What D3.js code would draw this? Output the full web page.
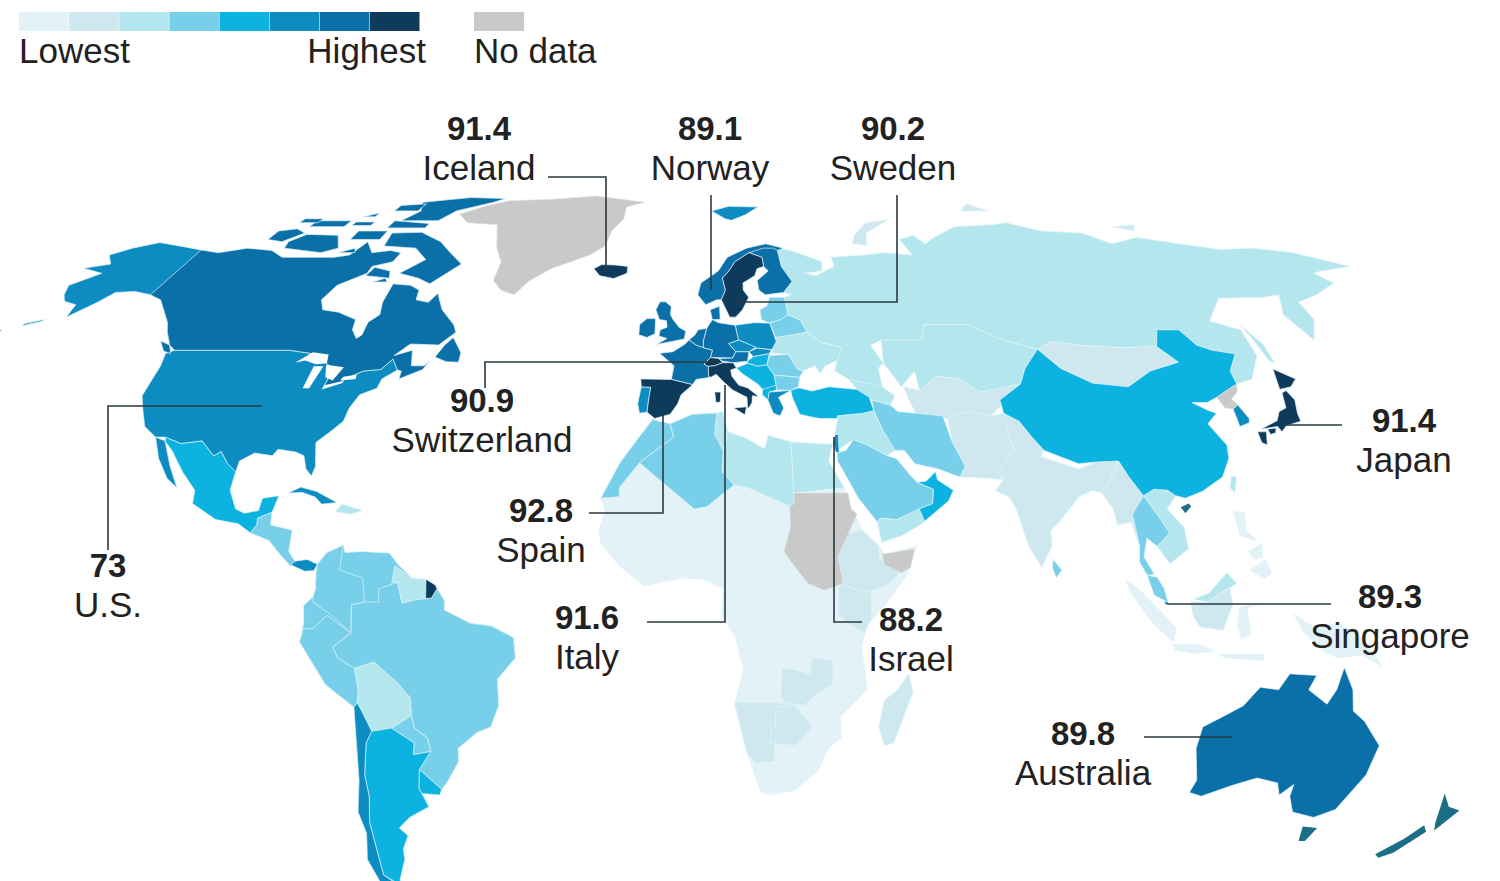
<!DOCTYPE html>
<html>
<head>
<meta charset="utf-8">
<script src="https://cdn.jsdelivr.net/npm/d3@7"></script>
<style>
  html, body { margin:0; background:#fff; }
  text { font-family:"Liberation Sans", Arial, sans-serif; fill:#222; }
</style>
</head>
<body>
<svg id="chart" width="1500" height="881"></svg>
<script>
"use strict";

// ---- Legend + callouts
const shades = ["#e2f2f7","#cfe8f0","#b4e6ee","#78cfea","#0cb2e0","#0c8cc0","#0b6fa8","#0e3a5c"];
const noData = "#c9c9c9";
const tealIslands = "#1c6e86";
const calloutNames = ["Iceland","Norway","Sweden","Switzerland","Spain","Italy","Israel","U.S.","Japan","Singapore","Australia"];
const calloutValues = ["91.4","89.1","90.2","90.9","92.8","91.6","88.2","73","91.4","89.3","89.8"];

// ---- Robinson table, every 5 degrees
const robLat = [0,5,10,15,20,25,30,35,40,45,50,55,60,65,70,75,80,85,90];
const robLen = [1,.9986,.9954,.99,.9822,.973,.96,.9427,.9216,.8962,.8679,.835,.7986,.7597,.7186,.6732,.6213,.5722,.5322];
const robDrop = [0,.062,.124,.186,.248,.31,.372,.434,.4958,.5571,.6176,.6769,.7346,.7903,.8435,.8936,.9394,.9761,1];

// ---- Outlines, [lon, lat]
const greenland = [[-73,78.2],[-68,76],[-58,75.5],[-54,70],[-51,67],[-51,63],[-48,61],[-44,60],[-41,63],[-36,65.5],[-26,68.5],[-22,70.5],[-21,74],[-18,77],[-18,80],[-12,81.5],[-30,83.5],[-45,82.5],[-60,82],[-66,80.5]];
const iceland = [[-24,65.5],[-22,64],[-18,63.4],[-14.5,64.5],[-14.5,66],[-18,66.3],[-22,66.4]];
const canada = [[-141,69.6],[-135,69],[-128,70],[-120,69.5],[-115,68],[-108,68],[-100,68],[-96,68.5],[-94,71.5],[-90,69],[-85,69.5],[-81.5,69],[-82,67],[-87,66],[-87,64.5],[-93,62],[-94.5,59],[-92.5,57],[-88,56.5],[-82.5,55],[-82,53],[-80,51.3],[-79,52],[-79,54.5],[-77,56],[-78,58.5],[-78,62.3],[-73,62],[-70,61],[-69.5,59],[-66,58.5],[-64.5,60.3],[-61.5,57],[-57,54],[-55.8,52.5],[-59,50],[-66,50.2],[-69,48],[-65,49],[-64.5,47.5],[-64,46],[-61,46],[-60,47],[-61,45.3],[-66,43.5],[-66,45],[-67,45.2],[-69,47.3],[-71,45.3],[-75,45],[-79,43.4],[-79,42.9],[-83,42],[-82.4,45.3],[-84.5,46.5],[-88.5,48.3],[-95,49],[-123,49],[-125,50],[-128,52.5],[-130,54.5],[-133,56.5],[-137,59],[-141,60]];
const baffin = [[-62,66.5],[-68,62.3],[-72,63.5],[-78,64.5],[-73,67.5],[-78,70],[-88,70.5],[-89,73.5],[-80,73.7],[-72,71.5],[-67,69]];
const victoria = [[-117,70],[-105,69],[-101,70],[-105,73],[-115,73.2],[-118,71.5]];
const banks = [[-125,72],[-120,71.5],[-116,73.5],[-120,74.5],[-125,74]];
const ellesmere = [[-90,76.5],[-78,76.5],[-75,79],[-65,81.5],[-62,82.7],[-75,83],[-90,81.5],[-87,79]];
const axel = [[-96,79],[-88,79],[-88,81],[-96,80.5]];
const devon = [[-92,74.7],[-80,74.7],[-80,75.8],[-92,76.5]];
const melville = [[-117,75],[-106,75],[-106,76.5],[-117,76.5]];
const bathurst = [[-104,75.3],[-98,75.3],[-98,76.2],[-104,76.2]];
const patrick = [[-122,76],[-116,76],[-116,77],[-122,77]];
const ringnes = [[-104,77.5],[-100,77.5],[-100,78.5]];
const somerset = [[-100,72],[-91,72],[-91,74],[-100,74]];
const kingWilliam = [[-100,69],[-95,69],[-96,70]];
const coats = [[-84,62.7],[-80,62.7],[-81,63.5]];
const newfoundland = [[-59,47.7],[-56,46.8],[-53,46.7],[-53,48.5],[-56,51.5],[-57.5,50]];
const southampton = [[-87,64],[-80,63.5],[-81,65],[-86,65.8]];
const vancouver = [[-128,50.8],[-125,50],[-123.5,48.4],[-125.5,48.8]];
const alaska = [[-141,69.6],[-148,70.4],[-156.5,71.3],[-162,70],[-166,68.5],[-162,66.5],[-168,65.6],[-161,64.5],[-166,62],[-164,60],[-162,58.7],[-158,58],[-157,55.5],[-155,57],[-153,58.5],[-151,60.5],[-146,60.7],[-141,60],[-137,59],[-133,56.5],[-130,54.5],[-131.5,56],[-135,59]];
const aleutianA = [[-166,54.2],[-162,55],[-162,54.7],[-166,53.8]];
const aleutianB = [[-178,52],[-170,53],[-170,52.7],[-178,51.7]];
const usa = [[-123,49],[-95,49],[-88.5,48.3],[-84.5,46.5],[-82.4,45.3],[-83,42],[-79,42.9],[-79,43.4],[-75,45],[-71,45.3],[-69,47.3],[-67,45.2],[-70,43.5],[-70.5,41.7],[-74,40.5],[-75.5,38],[-76,35.5],[-78,33.8],[-81,31.5],[-80,27],[-80.5,25.2],[-82,26.5],[-83,29],[-85,29.7],[-89,30.2],[-90,29],[-94,29.5],[-97,28],[-97.3,26],[-99.5,27.5],[-101.5,29.8],[-103,29],[-106.5,31.8],[-111,31.3],[-115,32.5],[-117.2,32.5],[-120.5,34.5],[-122.5,37.5],[-124.3,40.3],[-124,46],[-124.7,48.4]];
const mexico = [[-115,32.5],[-111,31.3],[-106.5,31.8],[-103,29],[-101.5,29.8],[-99.5,27.5],[-97.3,26],[-97.8,22.5],[-96,19],[-94,18.2],[-91,18.7],[-90.5,21],[-87,21.5],[-88,18.4],[-91,17.3],[-91,16],[-92.2,14.5],[-95,16.2],[-100,17],[-105.5,20],[-105.5,22.5],[-109,26],[-112.5,30],[-114.7,31.7]];
const baja = [[-117.2,32.5],[-114.8,31.8],[-112,27],[-109.5,23],[-112,24.7],[-115,28.5]];
const centralAmerica = [[-92.2,14.5],[-91,16],[-91,17.3],[-88,18.4],[-88,16],[-83.2,15],[-83.6,11],[-82,9],[-83,8.2],[-86,11],[-88,13]];
const panama = [[-83,8.5],[-82,9.2],[-79.5,9.5],[-77.3,8.6],[-78,7.4],[-80,7.3]];
const cuba = [[-85,22],[-82.5,23.1],[-79,22.3],[-74.2,20.2],[-77.5,19.9],[-79,21.2],[-82,22.1]];
const hispaniola = [[-74.4,18.5],[-73,19.9],[-68.5,18.7],[-71,18]];
const southAmerica = [[-77.3,8.6],[-75.5,10.7],[-72,12.2],[-71.5,10.8],[-68,11],[-62,10.7],[-60,8.5],[-57,6],[-52,4.8],[-50,1.8],[-50,0],[-44.5,-2.5],[-40,-3],[-35.3,-5.2],[-35,-9],[-39,-13],[-39,-18],[-41,-22],[-44,-23],[-48.5,-26],[-48.7,-28.5],[-52,-32.5],[-54,-34.5],[-58,-34.5],[-57,-37],[-62,-39],[-65,-41],[-63.5,-42.5],[-65.5,-45],[-66,-47],[-69,-51],[-68.5,-52.5],[-65,-55],[-70,-55],[-74,-52],[-75,-47],[-73,-42],[-73.5,-38],[-71.5,-32],[-70.3,-18.3],[-76,-14],[-81,-6],[-80,-2.5],[-80,.8],[-78,2.5],[-77.5,4],[-77.5,7]];
const brazil = [[-60,5.2],[-59,1.3],[-56,2],[-52.8,2.2],[-51.6,4],[-50,1.8],[-50,0],[-44.5,-2.5],[-40,-3],[-35.3,-5.2],[-35,-9],[-39,-13],[-39,-18],[-41,-22],[-44,-23],[-48.5,-26],[-48.7,-28.5],[-52,-32.5],[-53.4,-33.7],[-57.6,-30],[-54.6,-26.6],[-55,-24],[-57.7,-22.2],[-58,-19.8],[-58,-16.5],[-60.5,-13.7],[-65.3,-9.8],[-69.5,-11],[-73,-9],[-74,-7],[-70,-4.3],[-69.8,1],[-67,1.5],[-64,1.5],[-64,4]];
const colombia = [[-77.3,8.6],[-75.5,10.7],[-72,12.2],[-72.5,7.5],[-67.5,6],[-67,1.5],[-69.8,1],[-70,-4.3],[-74,-1],[-78,1.5],[-78,2.5],[-77.5,4],[-77.5,7]];
const peru = [[-78,-3.5],[-75,-1],[-70,-4.3],[-74,-7],[-73,-9],[-69.5,-11],[-69,-15],[-69.5,-17.5],[-70.3,-18.3],[-76,-14],[-81,-6],[-80,-3.5]];
const guianas = [[-60.7,8.3],[-57,6],[-54,5.8],[-54,2.2],[-56,2],[-59,1.3],[-60,5.2],[-61.3,5.2]];
const frenchGuiana = [[-54,5.8],[-52,4.7],[-51.6,4],[-52.8,2.2],[-54,2.2]];
const bolivia = [[-69.5,-11],[-65.3,-9.8],[-60.5,-13.7],[-58,-16.5],[-58,-19.8],[-62.6,-22.2],[-67,-22.8],[-68.7,-19],[-69.5,-17.5],[-69,-15]];
const paraguay = [[-62.6,-22.2],[-58,-19.8],[-57.7,-22.2],[-55,-24],[-54.6,-26.6],[-58.5,-27.2],[-58,-25]];
const chile = [[-69.5,-17.5],[-68.7,-19],[-67,-22.8],[-68.5,-25],[-70,-31],[-70,-35],[-71.5,-40],[-72,-46],[-72.5,-50],[-70,-52],[-67,-55],[-70,-55],[-74,-52],[-75,-47],[-73,-42],[-73.5,-38],[-71.5,-32],[-70.3,-18.3]];
const argentina = [[-67,-22.8],[-62.6,-22.2],[-58,-25],[-58.5,-27.2],[-54.6,-26.6],[-57.6,-30],[-58.4,-33.5],[-58,-34.5],[-57,-37],[-62,-39],[-65,-41],[-63.5,-42.5],[-65.5,-45],[-66,-47],[-69,-51],[-68.5,-52.5],[-72.5,-50],[-72,-46],[-71.5,-40],[-70,-35],[-70,-31],[-68.5,-25]];
const uruguay = [[-58.4,-33.5],[-57.6,-30],[-53.4,-33.7],[-54,-34.8],[-58,-34.5]];

const africa = [[-6,35.8],[-2,35],[3,36.8],[10,37.3],[11,33.5],[15,32.3],[19,30.3],[20,32.8],[25,31.6],[32,31.2],[34.2,31.2],[33,28],[36,23],[37.3,19],[39.5,15],[43.2,11.8],[44,10.5],[51,12],[49,7],[44,1],[40,-3],[39,-7],[40.5,-15],[35,-20],[35.5,-24],[32.8,-26],[31,-30],[26,-34],[20,-34.8],[18.3,-34],[15,-27],[12,-18],[13.8,-11],[12,-5],[9,-1],[9.5,4],[5,5.8],[1,6],[-4,5.2],[-7.5,4.5],[-13,8.5],[-16.7,12.5],[-17.3,14.7],[-16,19],[-17,21],[-13,27.7],[-9.8,31.5]];
const morocco = [[-6,35.8],[-2,35],[-1.2,32.5],[-8.7,27.7],[-13,23],[-13,21.3],[-17,21],[-13,27.7],[-9.8,31.5]];
const algeria = [[-2,35],[3,36.8],[8.6,37],[8,33],[9.8,30],[9.5,26],[12,23.5],[6,19.4],[3.3,19],[-5,25],[-8.7,27.7],[-1.2,32.5]];
const tunisia = [[8.6,37],[10,37.3],[11,33.5],[9.8,30],[8,33]];
const libya = [[11,33.5],[15,32.3],[19,30.3],[20,32.8],[25,31.6],[25,20],[24,19.5],[15,23],[12,23.5],[9.5,26],[9.8,30]];
const egypt = [[25,31.6],[32,31.2],[34.2,31.2],[33,28],[36,23],[25,22]];
const sudan = [[25,22],[36.8,22],[37.3,19],[38.5,18],[36.5,14.5],[34,10],[35,5],[31,3.7],[27.5,5],[24,9],[22.5,11],[24,15.5],[24,19.5],[25,20]];
const somaliland = [[43.5,10.5],[50.5,11.5],[49.5,8],[47.5,7],[44,8.5]];
const ethiopia = [[36.5,14.5],[39.5,15],[42.7,12.2],[43,9.5],[48,8],[45,5],[41,3.5],[38,3.7],[35,5],[34,10]];
const kenya = [[35,5],[38,3.7],[41,3.5],[41,-1.5],[39.5,-4.5],[34,-1],[34,4]];
const zambia = [[22,-11],[24,-11],[28,-12],[28.5,-9],[33,-9.5],[33,-14],[30,-15.6],[27,-18],[23,-17.5],[22,-16]];
const namibia = [[12,-17.3],[23,-17.5],[25,-17.8],[21,-18.3],[21,-28.5],[17,-28.8],[15,-27]];
const botswana = [[21,-18.3],[25,-17.8],[29,-22],[25.5,-25.5],[20,-25],[20,-22],[21,-22]];
const madagascar = [[49.3,-12],[50.4,-15.5],[47,-25],[45,-25.5],[43.5,-22],[44.3,-17],[47,-15]];

const russia = [[28,70],[33,69.5],[41,67],[40,65],[35,64.5],[38,64],[44,66],[44,68],[54,68.5],[60,69],[68,68.5],[67,72],[72,73],[74,71],[78,72.5],[87,75],[100,75.5],[105,76],[113,74],[125,73.5],[130,71],[140,72.5],[150,71],[160,69.7],[170,70],[180,69],[190,66],[180,65],[177,64.5],[179,62.5],[170,60],[163,58.5],[162,55],[157,51],[155.5,56],[160,60],[155,59.5],[143,59.3],[135,54.7],[141,53],[140,48],[135,43.5],[130.7,42.5],[131,45],[135,48.3],[130,49],[127,50],[125.5,53],[120,53],[117,49.7],[108,49.5],[98,50],[92,50.7],[87.5,49.2],[80,51],[73,54],[62,54],[60,51],[50,51],[47,50],[49,46.5],[47.5,45.5],[47.5,42],[48,41.5],[40,43.4],[37,45],[38,47],[40,49.5],[35,50.5],[32,52.5],[31,54.8],[28,56],[28,59.5],[30,60],[28,60.5],[31,62.8],[29,66],[29,69.5]];
const novayaZemlya = [[52,71],[56,70.6],[58,73.5],[68,76.8],[60,76],[54,73]];
const severnaya = [[95,79],[104,79],[100,81]];
const newSiberia = [[137,75],[145,75.5],[142,74]];
const sakhalin = [[142,54],[143.5,50],[143,46.5],[142,47],[142,51]];
const finland = [[20.5,69],[25,70],[28,70],[29,69.5],[29,66],[31,62.8],[28,60.5],[23,60],[21.5,61],[21.5,63],[25,65],[24,66],[24,68]];
const sweden = [[11.2,59],[13,55.5],[14.5,55.5],[16.5,57],[18.5,59.5],[17.3,61],[17.5,62.5],[21,64],[22,65.5],[24,66],[24,68],[20.5,69],[16,67],[14,65],[12,63.5],[12.5,61]];
const norway = [[5,60],[7,58],[10,59],[11.2,59],[12.5,61],[12,63.5],[14,65],[16,67],[20.5,69],[25,68.7],[29,69.5],[31,70],[26,71],[20,70],[14,68],[11,65],[6,62.5]];
const svalbard = [[11,79],[15,77],[17,76.6],[22,78],[27,80],[17,80.2]];
const denmark = [[8.1,57],[10.6,57.7],[10.5,55],[8.5,55]];
const britain = [[-5.5,50.1],[1.3,51.2],[1.7,52.7],[0,53.5],[-1.5,55],[-2.2,56],[-2,57.6],[-3.5,58.6],[-5,58.6],[-6,57],[-5,55],[-3.2,54.8],[-3,53.5],[-4.7,53],[-5,51.8],[-3,51.3]];
const ireland = [[-6,52.2],[-6,54],[-6,55.2],[-8.2,55.2],[-10,54],[-10,52],[-8,51.5]];
const france = [[-1.8,43.4],[-1.2,46],[-4.7,48.4],[-1.5,48.7],[1.5,50.2],[2.5,51],[4.2,50],[6,49.5],[8.2,49],[7.6,47.6],[6,46.3],[7,45.9],[7,44],[7.5,43.8],[4,43.4],[3.2,42.4]];
const benelux = [[2.5,51],[4,52],[4.8,53],[7,53.3],[6,50.7],[6,49.5],[4.2,50]];
const germany = [[7,53.3],[8.5,55],[10,54.4],[14.2,53.9],[14.7,51],[12.2,50.3],[13.8,48.7],[13,47.5],[7.6,47.6],[8.2,49],[6,49.5],[6,50.7]];
const poland = [[14.2,53.9],[19,54.4],[23,54.3],[24,50.7],[22.7,49.1],[19,49.4],[14.7,51]];
const czechia = [[12.2,50.3],[14.7,51],[18.8,49.6],[17,48.7],[13.8,48.7]];
const slovakia = [[17,48.7],[19,49.4],[22.5,49.1],[22,48.4],[18,47.8]];
const austria = [[9.6,47.4],[13,47.5],[13.8,48.7],[17,48.7],[16.5,46.9],[13,46.6],[10.5,46.9]];
const switzerland = [[6,46.3],[7.6,47.6],[9.6,47.4],[10.5,46.6],[8.5,46],[7,45.9]];
const italy = [[7,44],[7,45.9],[8.5,46],[10.5,46.6],[13,46.6],[13.7,45.6],[12.3,45.2],[12.5,44],[14,42.3],[16,41.8],[18.5,40.1],[17,40.3],[16.8,39],[16,38],[15.7,38.1],[15.7,40],[12.5,41.4],[10.5,42.9],[8.8,44.4],[7.5,43.8]];
const sicily = [[12.5,38],[15.5,38.2],[15,36.7]];
const sardinia = [[8.3,41],[9.7,41],[9.5,39.1],[8.5,39]];
const spain = [[-9,43.5],[-1.8,43.4],[3.2,42.4],[.5,40.5],[-.3,38.8],[-2,36.8],[-5.5,36],[-7.3,37.2],[-7,39.5],[-6.6,41.9],[-8.8,42]];
const portugal = [[-8.8,42],[-6.6,41.9],[-7,39.5],[-7.3,37.2],[-9,37],[-9.5,38.8]];
const hungary = [[16.5,46.9],[18,47.8],[22,48.4],[21,46.2],[18.8,45.9],[16.5,46.5]];
const balkans = [[13.7,45.6],[16.5,46.5],[18.8,45.9],[21,46.2],[22.5,44.2],[22.7,42.3],[20.5,41],[19.5,41.5],[18.5,42.5],[15,44.5]];
const albania = [[19.5,41.5],[22.7,42.3],[22.7,41.4],[21,41],[20.5,39.5],[19.3,40.5]];
const greece = [[20.5,39.5],[21,41],[26,41.3],[23,40],[24,38],[23,36.5],[21.5,37]];
const romania = [[21,46.2],[22,48],[26.5,48.2],[28.2,45.3],[29.5,45],[28.5,43.8],[22.5,44.2]];
const bulgaria = [[22.5,44.2],[28.5,43.8],[27.9,42],[26,41.3],[22.7,41.4]];
const baltics = [[21,55],[21,57],[23,57.8],[24,59.5],[28,59.5],[28,56],[26,55],[23,54.3]];
const belarus = [[23,54.3],[26,55],[28,56],[31,54.8],[32,52.5],[24,51.5]];
const ukraine = [[24,50.7],[24,51.5],[32,52.5],[35,50.5],[40,49.5],[38,47],[35,46],[33.5,44.5],[32.5,46],[29.5,45],[28.2,45.3],[26.5,48.2],[22.5,48.5]];
const turkey = [[26.2,40],[26,41.3],[28,41.8],[31,41.2],[35,42],[41.5,41.5],[44,40],[44.5,37.5],[42,37],[36,36.5],[36,36],[32,36],[30,36.3],[27.5,36.8]];
const caucasus = [[40,43.4],[47.5,42],[50,40.3],[48.5,38.5],[44.5,39.5],[41.5,41.5]];
const iran = [[44.5,39.5],[48.5,38.5],[50,37.3],[54,37],[60,36.5],[61,31.5],[63,27],[61.5,25],[57,26.5],[52,27.5],[50,30],[48,30],[46,33.5],[44.5,37.5]];
const iraqSyria = [[36,36.5],[42,37],[44.5,37.5],[46,33.5],[48,30],[46,29],[42,31],[39,32],[35,30],[35,33],[36,36]];
const israel = [[34.3,31.3],[35,33],[35.7,33],[35.5,29.6],[34.8,29.6]];
const saudi = [[35,29.5],[35,28],[39,21],[42.8,16.5],[43.5,17.3],[47,17],[52,19],[55,20],[55.5,22.7],[52,24],[51,25],[48,28.5],[46,29],[42,31],[39,32],[37,30]];
const yemen = [[42.8,16.5],[43.5,12.7],[48,14],[52,16],[53,16.7],[52,19],[47,17],[43.5,17.3]];
const oman = [[52,24],[55.5,22.7],[55,20],[52,19],[53,16.7],[58.5,20.5],[59.8,22.5],[56.5,24.5],[56.3,26],[54,24.2]];
const kazakhstan = [[49,46.5],[50,51],[60,51],[62,54],[73,54],[80,51],[87.5,49.2],[82.5,45.5],[80,42.5],[70,41],[66,43.5],[61,44],[56,41.3],[56,45],[52,42],[50,45]];
const centralAsia = [[52.5,42],[56,41.3],[61,44],[66,43.5],[70,41],[80,42.5],[74,38.5],[71,36.5],[66,37.3],[61,36],[54,37],[53,39.5]];
const afPak = [[61,36],[66,37.3],[71,36.5],[74,37],[77,35.5],[74,32],[74.5,30],[70,26],[71,24.5],[67,24.8],[61.5,25],[63,27],[61,31.5]];
const india = [[74,37],[77,35.5],[79,32.5],[81,30],[80,28.8],[88,26.5],[92,27.8],[97,28],[94,24],[92,22],[90,22.5],[87,21.3],[82,16.5],[80,15],[80,12],[77.5,8],[75,12],[73,19],[72,21],[69,22.5],[71,24.5],[70,26],[74.5,30],[74,32]];
const myanmar = [[92,22],[94,24],[97,28],[98.5,25],[101,21.5],[98,18],[98.8,12],[97.5,16.5],[94.5,16],[94,19]];
const sriLanka = [[80,9.5],[81.8,7.5],[80.5,6],[79.8,8]];
const thailand = [[98,18],[101,21.5],[103,18.5],[105.5,14.5],[102.5,12],[100.5,13.5],[99.5,10],[101.5,6.7],[100,6.5],[98.5,9],[98.8,12]];
const indochina = [[101,21.5],[103.5,22.7],[106.5,22.5],[108,21.5],[105.7,19],[108.8,15.5],[109.2,11.5],[105,8.7],[102.5,12],[105.5,14.5],[103,18.5]];
const malaya = [[100,6.5],[102,6.2],[103.5,4],[104.2,1.4],[101.3,2.8]];
const sabah = [[109.7,2],[113,3.2],[117,7],[119,5],[117.5,4.2],[115,3],[113,1.5]];
const sumatra = [[95.3,5.6],[98,4],[104,-1.5],[106,-3.5],[105.5,-6],[101,-2.5],[96.5,3]];
const kalimantan = [[109,1.5],[113,1.5],[115,3],[117.5,4.2],[118,1],[116,-3.8],[111,-3.2],[109.5,-1]];
const java = [[105.5,-6.5],[111,-6.5],[114.5,-7.8],[110,-8.2],[106,-7.5]];
const sulawesi = [[119.5,.5],[125,1.5],[121,.3],[122,-4.5],[120,-5.5],[119,-3]];
const sunda = [[115,-8.3],[125,-8.3],[125,-9.5],[117,-9]];
const papua = [[131,-.8],[135,-3],[141,-2.6],[141,-9],[138,-8],[133,-4]];
const png = [[141,-2.6],[146,-5.5],[150.5,-10.5],[146,-8.5],[141,-9]];
const luzon = [[120,18.5],[122.3,18.3],[122,15],[124,13],[120.5,14]];
const visayas = [[122,11],[125,12.5],[125,10],[123,9.5]];
const mindanao = [[122,7.5],[125.5,9.5],[126.5,7],[125,5.8]];
const singapore = [[103.5,1.6],[104.2,1.6],[104.2,1.1],[103.5,1.1]];
const mongolia = [[87.5,49.2],[92,50.7],[98,50],[108,49.5],[117,49.7],[120,46.7],[112,45],[105,42],[97,42.7],[91,45.5]];
const china = [[74,39.5],[80,42.5],[82.5,45.5],[87.5,49.2],[91,45.5],[97,42.7],[105,42],[112,45],[120,46.7],[117,49.7],[120,53],[125.5,53],[127,50],[130,49],[135,48.3],[131,45],[130.7,42.5],[128,41.5],[124.3,40],[121.5,39],[118,39],[121,37.5],[122.5,37],[119.5,35],[122,31],[121.5,28.5],[119,25],[114,22.3],[110,21],[108,21.5],[106.5,22.5],[103.5,22.7],[101,21.5],[98.5,25],[97,28],[92,27.8],[88,27.5],[81,30],[79,32.5],[77,35.5],[74,37]];
const hainan = [[108.7,19.3],[110.5,20],[111,19.5],[109.5,18.2]];
const taiwan = [[121,25.2],[122,25],[121,22],[120.2,23]];
const northKorea = [[124.3,40],[128,41.5],[130.7,42.5],[129.7,41],[127.5,39.7],[128.3,38.6],[126.8,37.8],[125,38]];
const southKorea = [[126.8,37.8],[128.3,38.6],[129.4,36],[129,35.2],[126.5,34.5]];
const hokkaido = [[140,41.5],[141.5,45.4],[145.3,43.5],[143,42]];
const honshu = [[131,34],[135.5,35.6],[137,37.3],[139,38],[140,40.8],[141.3,41.3],[142,39.5],[141,37],[140.8,35.5],[137,34.6],[135.5,33.5],[135,34.5]];
const kyushu = [[130,33.5],[132,33.5],[131,31],[130,31.5]];
const shikoku = [[132.5,34],[134.5,34.2],[134,33.3],[132.7,33]];
const australia = [[114,-22],[113.5,-26],[115.7,-32],[115,-34.3],[118,-35],[124,-33],[129,-31.6],[134,-32.5],[135.5,-34.8],[137.8,-32.8],[138,-35],[140.5,-38],[146,-39],[150,-37.5],[153,-31],[153.5,-25.5],[149,-21],[146,-19],[145,-15],[142.5,-10.8],[141.5,-15],[140,-17.7],[135.5,-15],[136.8,-12.3],[131,-12],[129,-15],[125,-14.5],[122,-18],[118,-20]];
const tasmania = [[144.7,-40.7],[148.3,-41],[147.5,-43.5],[146,-43.5]];
const nzNorth = [[172.7,-34.5],[175.5,-37],[178.5,-37.7],[176,-41.5],[174.8,-40]];
const nzSouth = [[172.7,-40.5],[174.3,-41.7],[170.5,-45.7],[168,-46.7],[166.5,-46],[170.5,-43]];
const superior = [[-92.2,46.6],[-89,48.6],[-85,48.2],[-84.5,46.5],[-87,46.3],[-90,47]];
const michigan = [[-87.8,41.7],[-86.3,41.7],[-85,45.9],[-87.3,45.9]];
const huron = [[-84.5,46.2],[-80,45.7],[-81.5,43.2],[-83.5,43.8]];
const erie = [[-83.3,41.5],[-78.9,42.7],[-79,43.1],[-83,42.3]];
const ontario = [[-79.7,43.2],[-76.2,43.5],[-76.3,44.3],[-79.3,43.9]];

// shade index per group, drawn in this order so later ones sit on top
const groups = [
  [0, [africa]],
  [3, [southAmerica, brazil, colombia, peru, centralAmerica, paraguay]],
  [2, [guianas, bolivia, hispaniola, russia, sakhalin, ukraine, caucasus, kazakhstan, iraqSyria, yemen, tunisia, libya, egypt, indochina, taiwan, sabah]],
  [1, [ethiopia, kenya, zambia, namibia, botswana, madagascar, centralAsia, afPak, india, myanmar, mongolia, kalimantan, novayaZemlya, severnaya, newSiberia]],
  [0, [sumatra, java, sulawesi, sunda, papua, png, luzon, visayas, mindanao]],
  [3, [morocco, algeria, iran, saudi, baltics, belarus, romania, bulgaria, thailand, malaya, sriLanka]],
  [4, [mexico, argentina, uruguay, hungary, balkans, albania, turkey, oman, china]],
  [5, [baja, panama, cuba, usa, alaska, aleutianA, aleutianB, chile, svalbard, portugal, poland, czechia, slovakia, greece, israel, singapore, southKorea]],
  [6, [canada, baffin, victoria, banks, ellesmere, axel, devon, melville, bathurst, patrick, ringnes, somerset, kingWilliam, coats, newfoundland, southampton, vancouver, norway, finland, denmark, britain, ireland, france, benelux, germany, austria, australia]],
  [7, [iceland, frenchGuiana, sweden, switzerland, italy, sicily, sardinia, spain, hokkaido, honshu, kyushu, shikoku]]
];
const tealLand = [hainan, tasmania, nzNorth, nzSouth];
const noDataLand = [greenland, sudan, somaliland, northKorea];
const lakes = [superior, michigan, huron, erie, ontario];

// ---- Robinson projection built from scales
const lenAt = d3.scaleLinear().domain(robLat).range(robLen);
const dropAt = d3.scaleLinear().domain(robLat).range(robDrop);
const lonX = d3.scaleLinear().domain([-180,180]).range([679 - Math.PI*269, 679 + Math.PI*269]);
const latY = d3.scaleLinear().domain([-1,1]).range([610 + 429, 610 - 429]);
const project = ([lon,lat]) => [
  lonX(0) + (lonX(lon) - lonX(0))*lenAt(Math.abs(lat)),
  latY(Math.sign(lat)*dropAt(Math.abs(lat)))
];
const ring = d3.line(d => project(d)[0], d => project(d)[1]).curve(d3.curveLinearClosed);

const svg = d3.select("#chart");
const map = svg.append("g").style("filter","blur(0.6px)");

groups.forEach(([shade, rings]) => {
  map.append("g").selectAll("path").data(rings).join("path")
    .attr("d", ring)
    .attr("fill", shades[shade])
    .attr("stroke", "#dff3fa").attr("stroke-width", 0.7).attr("stroke-linejoin","round");
});
map.append("g").selectAll("path").data(tealLand).join("path")
  .attr("d", ring).attr("fill", tealIslands);
map.append("g").selectAll("path").data(noDataLand).join("path")
  .attr("d", ring).attr("fill", noData)
  .attr("stroke", "#e4e4e4").attr("stroke-width", 0.6);
map.append("g").selectAll("path").data(lakes).join("path")
  .attr("d", ring).attr("fill", "#fff");

// ---- Legend
const swatch = d3.scaleBand().domain(d3.range(shades.length)).range([19,420]);
svg.append("g").selectAll("rect").data(shades).join("rect")
  .attr("x", (d,i) => swatch(i)).attr("y", 12)
  .attr("width", swatch.bandwidth()-0.5).attr("height", 19).attr("fill", d => d);
svg.append("rect").attr("x",474).attr("y",12).attr("width",50).attr("height",19).attr("fill",noData);
const legendLabels = [["Lowest",19,"start"],["Highest",426,"end"],["No data",474,"start"]];
svg.append("g").selectAll("text").data(legendLabels).join("text")
  .attr("x", d => d[1]).attr("y", 63).attr("text-anchor", d => d[2])
  .style("font-size","35px").text(d => d[0]);

// ---- Callouts: label centre, baseline of the value, leader polyline
const labelX = [479,710,893,482,541,587,911,108,1404,1390,1083];
const labelY = [140,140,140,412,522,629,631,577,432,608,745];
const leaders = [
  [[548,177],[606,177],[606,272]],
  [[711,195],[711,290]],
  [[897,195],[897,302],[738,302]],
  [[485,388],[485,362],[717,362]],
  [[589,513],[663,513],[663,415]],
  [[647,622],[725,622],[725,385]],
  [[862,622],[834,622],[834,437]],
  [[108,550],[108,406],[262,406]],
  [[1342,425],[1285,425]],
  [[1331,604],[1167,604]],
  [[1144,737],[1232,737]]
];
const notes = svg.append("g");
notes.selectAll("path").data(leaders).join("path")
  .attr("d", d3.line()).attr("fill","none").attr("stroke","#2b3a42").attr("stroke-width",1.6);
const note = notes.selectAll("g").data(calloutNames).join("g")
  .attr("transform", (d,i) => `translate(${labelX[i]},${labelY[i]})`)
  .attr("text-anchor","middle");
note.append("text").style("font-size","33px").style("font-weight","700")
  .text((d,i) => calloutValues[i]);
note.append("text").attr("y",40).style("font-size","35px").text(d => d);
</script>
</body>
</html>
